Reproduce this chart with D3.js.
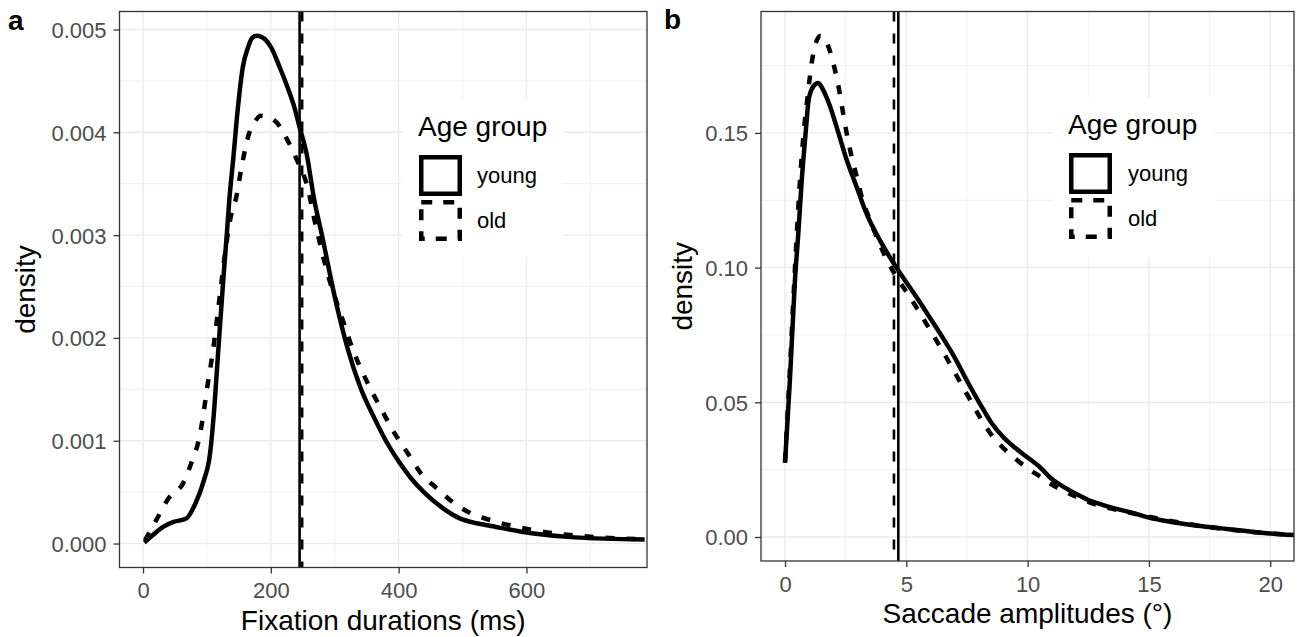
<!DOCTYPE html>
<html>
<head>
<meta charset="utf-8">
<script src="https://cdn.jsdelivr.net/npm/d3@7"></script>
<style>
  html, body { margin: 0; padding: 0; background: #ffffff; }
  svg { display: block; font-family: "Liberation Sans", Arial, Helvetica, sans-serif; }
</style>
</head>
<body>
<svg id="chart" width="1302" height="637"></svg>
<script>
// ---------------- DATA ----------------
// Panel a: fixation durations (ms)
const fixYoungX = [2, 15, 32, 48, 68, 82, 95, 105, 110, 118, 126, 131, 135, 141, 148, 156, 164, 171, 179, 190, 201, 214, 226, 237, 245, 256, 268, 280, 300, 320, 340, 362, 380, 400, 420, 441, 468, 494, 520, 541, 608, 675, 785];
const fixYoungD = [0.00001, 0.00008, 0.000165, 0.00021, 0.000245, 0.00039, 0.00061, 0.00088, 0.0012, 0.0019, 0.0026, 0.0030, 0.00334, 0.00373, 0.00421, 0.00463, 0.00482, 0.00492, 0.00494, 0.00491, 0.00482, 0.00463, 0.00444, 0.00424, 0.00405, 0.00379, 0.00334, 0.0030, 0.0024, 0.0019, 0.00152, 0.00122, 0.00100, 0.00080, 0.00063, 0.00049, 0.00035, 0.00025, 0.0002, 0.000175, 0.0001, 0.00006, 0.00004];
const fixOldX = [3, 20, 40, 63, 77, 87, 93, 100, 110, 120, 130, 138, 146, 151, 157, 165, 175, 184, 196, 210, 228, 243, 256, 270, 290, 310, 330, 350, 370, 394, 414, 434, 461, 485, 511, 548, 615, 715, 785];
const fixOldD = [0.00003, 0.00022, 0.00044, 0.00059, 0.00081, 0.0010, 0.0012, 0.0015, 0.0019, 0.0024, 0.0029, 0.0032, 0.00337, 0.00355, 0.00375, 0.00397, 0.00410, 0.00416, 0.00415, 0.00409, 0.0039, 0.0037, 0.0035, 0.0031, 0.0026, 0.00222, 0.00186, 0.00158, 0.00134, 0.00107, 0.00088, 0.00069, 0.00053, 0.0004, 0.0003, 0.00022, 0.000126, 0.00006, 0.00004];
const fixMeanYoung = 245;
const fixMeanOld = 249;

// Panel b: saccade amplitudes (deg)
const sacYoungX = [0, 0.2, 0.41, 0.55, 0.69, 0.85, 0.97, 1.15, 1.37, 1.57, 1.85, 2.2, 2.54, 2.95, 3.36, 3.92, 4.47, 4.74, 5.5, 6, 6.5, 7, 7.5, 8, 8.5, 9, 9.5, 10, 10.5, 11, 11.5, 12, 12.5, 13, 13.5, 14, 14.5, 15, 16, 17, 18, 19, 20, 21];
const sacYoungD = [0.0275, 0.058, 0.0954, 0.113, 0.1325, 0.15, 0.162, 0.167, 0.1685, 0.166, 0.16, 0.15, 0.14, 0.13, 0.12, 0.11, 0.1017, 0.098, 0.088, 0.081, 0.074, 0.0665, 0.058, 0.050, 0.0425, 0.037, 0.033, 0.0295, 0.026, 0.0215, 0.0185, 0.016, 0.0137, 0.0122, 0.0108, 0.0097, 0.0085, 0.0072, 0.0055, 0.0042, 0.0032, 0.0022, 0.0013, 0.0007];
const sacOldX = [0, 0.2, 0.4, 0.6, 0.8, 0.9, 1.0, 1.1, 1.2, 1.32, 1.45, 1.6, 1.81, 2.06, 2.23, 2.4, 2.56, 2.75, 2.96, 3.2, 3.5, 3.84, 4.19, 4.6, 5, 5.5, 6, 6.5, 7, 7.5, 8, 8.5, 9, 9.5, 10, 10.5, 11, 11.5, 12, 12.5, 13, 14, 15, 16, 17, 18, 19, 20, 21];
const sacOldD = [0.028, 0.062, 0.098, 0.13, 0.153, 0.161, 0.169, 0.176, 0.181, 0.1845, 0.186, 0.1855, 0.1815, 0.1733, 0.166, 0.157, 0.149, 0.141, 0.1336, 0.125, 0.1177, 0.110, 0.103, 0.0965, 0.091, 0.084, 0.0765, 0.069, 0.061, 0.053, 0.045, 0.038, 0.033, 0.029, 0.0255, 0.0225, 0.0195, 0.017, 0.015, 0.013, 0.0115, 0.0095, 0.0075, 0.0058, 0.0043, 0.0031, 0.0021, 0.0013, 0.0007];
const sacMeanYoung = 4.67;
const sacMeanOld = 4.49;

// Ticks
const fixXTicks = [0, 200, 400, 600];
const fixXMinor = [100, 300, 500, 700];
const fixYTicks = [0, 0.001, 0.002, 0.003, 0.004, 0.005];
const fixYMinor = [0.0005, 0.0015, 0.0025, 0.0035, 0.0045];
const sacXTicks = [0, 5, 10, 15, 20];
const sacXMinor = [2.5, 7.5, 12.5, 17.5];
const sacYTicks = [0, 0.05, 0.10, 0.15];
const sacYMinor = [0.025, 0.075, 0.125, 0.175];

const groupLabels = ["young", "old"];
const legendTitle = "Age group";

// ---------------- DRAW ----------------
const svg = d3.select("#chart");

function drawPanel(cfg) {
  const x = d3.scaleLinear().domain(cfg.xDomain).range([cfg.left, cfg.right]);
  const y = d3.scaleLinear().domain(cfg.yDomain).range([cfg.bottom, cfg.top]);
  const g = svg.append("g");

  const clipId = "clip-" + cfg.tag;
  svg.append("defs").append("clipPath").attr("id", clipId)
    .append("rect").attr("x", cfg.left).attr("y", cfg.top)
    .attr("width", cfg.right - cfg.left).attr("height", cfg.bottom - cfg.top);

  // minor grid
  g.selectAll(".mgx").data(cfg.xMinor).enter().append("line")
    .attr("x1", d => x(d)).attr("x2", d => x(d)).attr("y1", cfg.top).attr("y2", cfg.bottom)
    .attr("stroke", "#EBEBEB").attr("stroke-width", 0.7);
  g.selectAll(".mgy").data(cfg.yMinor).enter().append("line")
    .attr("y1", d => y(d)).attr("y2", d => y(d)).attr("x1", cfg.left).attr("x2", cfg.right)
    .attr("stroke", "#EBEBEB").attr("stroke-width", 0.7);
  // major grid
  g.selectAll(".Mgx").data(cfg.xTicks).enter().append("line")
    .attr("x1", d => x(d)).attr("x2", d => x(d)).attr("y1", cfg.top).attr("y2", cfg.bottom)
    .attr("stroke", "#EBEBEB").attr("stroke-width", 1.4);
  g.selectAll(".Mgy").data(cfg.yTicks).enter().append("line")
    .attr("y1", d => y(d)).attr("y2", d => y(d)).attr("x1", cfg.left).attr("x2", cfg.right)
    .attr("stroke", "#EBEBEB").attr("stroke-width", 1.4);

  const plot = g.append("g").attr("clip-path", `url(#${clipId})`);
  const line = d3.line().x(d => x(d[0])).y(d => y(d[1])).curve(d3.curveMonotoneX);

  const series = [
    { xs: cfg.youngX, ds: cfg.youngD, dash: null },
    { xs: cfg.oldX, ds: cfg.oldD, dash: "9,12" }
  ];
  series.forEach(s => {
    plot.append("path")
      .datum(d3.zip(s.xs, s.ds))
      .attr("d", line)
      .attr("fill", "none")
      .attr("stroke", "#000")
      .attr("stroke-width", 4.5)
      .attr("stroke-linejoin", "round")
      .attr("stroke-dasharray", s.dash);
  });

  // mean lines
  plot.append("line")
    .attr("x1", x(cfg.meanYoung)).attr("x2", x(cfg.meanYoung))
    .attr("y1", cfg.top).attr("y2", cfg.bottom)
    .attr("stroke", "#000").attr("stroke-width", 2.6);
  plot.append("line")
    .attr("x1", x(cfg.meanOld)).attr("x2", x(cfg.meanOld))
    .attr("y1", cfg.top).attr("y2", cfg.bottom)
    .attr("stroke", "#000").attr("stroke-width", 2.6)
    .attr("stroke-dasharray", "10,12");

  // panel border
  g.append("rect").attr("x", cfg.left).attr("y", cfg.top)
    .attr("width", cfg.right - cfg.left).attr("height", cfg.bottom - cfg.top)
    .attr("fill", "none").attr("stroke", "#333333").attr("stroke-width", 1.3);

  // axes (ticks + labels)
  const xAxis = d3.axisBottom(x).tickValues(cfg.xTicks).tickSize(6).tickPadding(4)
    .tickFormat(cfg.xFmt);
  const xg = g.append("g").attr("transform", `translate(0,${cfg.bottom})`).call(xAxis);
  xg.select(".domain").remove();
  xg.selectAll(".tick line").attr("stroke", "#333333").attr("stroke-width", 1.3);
  xg.selectAll(".tick text").attr("fill", "#4D4D4D").attr("font-size", 22)
    .attr("font-family", "Liberation Sans, Arial, sans-serif")
    .attr("y", null).attr("dy", null)
    .attr("transform", `translate(0,${cfg.xLabelBase - cfg.bottom})`)
    .attr("dominant-baseline", "alphabetic");

  const yAxis = d3.axisLeft(y).tickValues(cfg.yTicks).tickSize(6).tickPadding(7)
    .tickFormat(cfg.yFmt);
  const yg = g.append("g").attr("transform", `translate(${cfg.left},0)`).call(yAxis);
  yg.select(".domain").remove();
  yg.selectAll(".tick line").attr("stroke", "#333333").attr("stroke-width", 1.3);
  yg.selectAll(".tick text").attr("fill", "#4D4D4D").attr("font-size", 22)
    .attr("font-family", "Liberation Sans, Arial, sans-serif")
    .attr("dy", "0.36em");

  // axis titles
  g.append("text").attr("x", (cfg.left + cfg.right) / 2).attr("y", cfg.xTitleBase)
    .attr("text-anchor", "middle").attr("font-size", 28).attr("fill", "#000")
    .text(cfg.xTitle);
  g.append("text")
    .attr("transform", `translate(${cfg.yTitleX},${(cfg.top + cfg.bottom) / 2}) rotate(-90)`)
    .attr("text-anchor", "middle").attr("dy", "0.35em").attr("font-size", 28).attr("fill", "#000")
    .text("density");

  // panel tag
  g.append("text").attr("x", cfg.tagX).attr("y", cfg.tagY)
    .attr("font-size", 28).attr("font-weight", "bold").attr("fill", "#000").text(cfg.tag);

  // legend
  const L = cfg.legend;
  const lg = g.append("g");
  lg.append("rect").attr("x", L.boxX).attr("y", L.boxY).attr("width", L.boxW).attr("height", L.boxH)
    .attr("fill", "#fff");
  lg.append("text").attr("x", L.titleX).attr("y", L.titleBase).attr("font-size", 28)
    .attr("fill", "#000").text(legendTitle);
  const keyDash = [null, "11,11"];
  groupLabels.forEach((lab, i) => {
    const ky = L.keyY + i * L.keyStep;
    lg.append("rect").attr("x", L.keyX + 2.25).attr("y", ky + 2.25)
      .attr("width", L.keyW - 4.5).attr("height", L.keyH - 4.5)
      .attr("fill", "none").attr("stroke", "#000").attr("stroke-width", 4.5)
      .attr("stroke-dasharray", keyDash[i]);
    lg.append("text").attr("x", L.labelX).attr("y", ky + L.keyH / 2 + 7.5)
      .attr("font-size", 22).attr("fill", "#000").text(lab);
  });
}

drawPanel({
  tag: "a", tagX: 8, tagY: 30,
  left: 119.5, right: 647, top: 11.5, bottom: 567.5,
  xDomain: [-36.8, 788.6], yDomain: [-0.000233, 0.005175],
  xTicks: fixXTicks, xMinor: fixXMinor, yTicks: fixYTicks, yMinor: fixYMinor,
  xFmt: d3.format("d"), yFmt: d3.format(".3f"),
  youngX: fixYoungX, youngD: fixYoungD, oldX: fixOldX, oldD: fixOldD,
  meanYoung: fixMeanYoung, meanOld: fixMeanOld,
  xLabelBase: 598, xTitleBase: 630, yTitleX: 25,
  xTitle: "Fixation durations (ms)",
  legend: { boxX: 403, boxY: 100, boxW: 160, boxH: 157, titleX: 418, titleBase: 136,
            keyX: 419, keyY: 155, keyW: 43, keyH: 41, keyStep: 45, labelX: 477 }
});

drawPanel({
  tag: "b", tagX: 664, tagY: 29,
  left: 761, right: 1294, top: 11.5, bottom: 561,
  xDomain: [-0.99, 20.98], yDomain: [-0.00891, 0.19506],
  xTicks: sacXTicks, xMinor: sacXMinor, yTicks: sacYTicks, yMinor: sacYMinor,
  xFmt: d3.format("d"), yFmt: d3.format(".2f"),
  youngX: sacYoungX, youngD: sacYoungD, oldX: sacOldX, oldD: sacOldD,
  meanYoung: sacMeanYoung, meanOld: sacMeanOld,
  xLabelBase: 592, xTitleBase: 623, yTitleX: 682,
  xTitle: "Saccade amplitudes (°)",
  legend: { boxX: 1053, boxY: 98, boxW: 162, boxH: 159, titleX: 1068, titleBase: 134,
            keyX: 1069, keyY: 153, keyW: 43, keyH: 41, keyStep: 45, labelX: 1128 }
});
</script>
</body>
</html>
